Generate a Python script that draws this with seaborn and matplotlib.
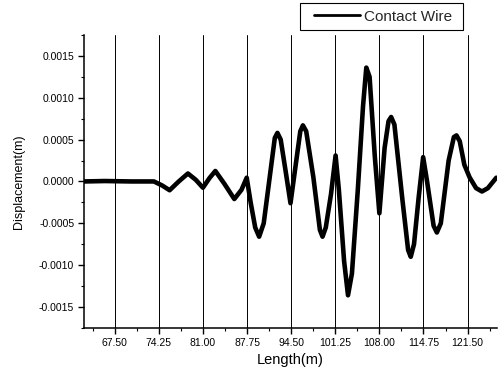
import matplotlib
matplotlib.use("Agg")
import matplotlib.pyplot as plt
from matplotlib.patches import Rectangle
from matplotlib.ticker import AutoMinorLocator, FormatStrFormatter
import seaborn as sns
import pandas as pd

# Contact wire vertical displacement along the span
length_m = [62.8, 66.0, 70.0, 73.5, 74.8, 75.9, 77.3, 78.7, 79.9, 81.0,
            82.0, 82.9, 84.3, 85.8, 86.9, 87.7, 88.3, 89.0, 89.6, 90.3,
            91.3, 92.0, 92.4, 92.9, 93.7, 94.4, 95.2, 95.9, 96.3, 96.8,
            97.9, 98.9, 99.3, 99.8, 100.6, 101.3, 101.8, 102.6, 103.2, 103.8,
            104.7, 105.5, 106.0, 106.5, 107.3, 108.0, 108.8, 109.4, 109.8, 110.3,
            111.5, 112.4, 112.8, 113.3, 114.0, 114.7, 115.3, 116.3, 116.8, 117.4,
            118.6, 119.4, 119.8, 120.3, 121.0, 121.8, 122.8, 123.7, 124.6, 125.9]
displacement_1e4 = [0.0, 0.05, 0.0, 0.0, -0.5, -1.05, 0.0, 0.95, 0.2, -0.75,
                    0.4, 1.25, -0.3, -2.1, -1.0, 0.45, -2.5, -5.5, -6.6, -5.0,
                    1.0, 5.2, 5.8, 5.0, 1.0, -2.6, 2.0, 6.0, 6.7, 6.0,
                    0.5, -5.8, -6.6, -5.5, -1.5, 3.1, -1.0, -9.5, -13.6, -11.0,
                    -1.0, 9.0, 13.6, 12.5, 3.0, -3.8, 4.0, 7.2, 7.7, 6.8,
                    -2.0, -8.2, -9.0, -7.5, -2.0, 2.9, 0.0, -5.3, -6.1, -5.0,
                    2.5, 5.3, 5.5, 4.8, 2.0, 0.5, -0.8, -1.2, -0.8, 0.45]
x_ticks = [67.50, 74.25, 81.00, 87.75, 94.50, 101.25, 108.00, 114.75, 121.50]
y_ticks = [-0.0015, -0.0010, -0.0005, 0.0, 0.0005, 0.0010, 0.0015]

df = pd.DataFrame({"Length": length_m,
                   "Displacement": [v * 1e-4 for v in displacement_1e4]})

sns.set_theme(style="white")
plt.rcParams["font.family"] = ["Liberation Sans", "DejaVu Sans"]

fig = plt.figure(figsize=(5.0, 3.8), dpi=100)
ax = fig.add_axes([0.168, 0.137, 0.826, 0.771])

# dropper positions as vertical lines
for xv in x_ticks:
    ax.axvline(xv, color="black", lw=0.7, zorder=1)

sns.lineplot(data=df, x="Length", y="Displacement", ax=ax, color="black",
             lw=3.3, label="Contact Wire", zorder=3, sort=False)

ax.set_xlim(62.8, 126.0)
ax.set_ylim(-0.00175, 0.00175)
ax.set_xticks(x_ticks)
ax.set_yticks(y_ticks)
ax.xaxis.set_major_formatter(FormatStrFormatter("%.2f"))
ax.yaxis.set_major_formatter(FormatStrFormatter("%.4f"))
ax.xaxis.set_minor_locator(AutoMinorLocator(2))
ax.yaxis.set_minor_locator(AutoMinorLocator(2))

for side in ("top", "right"):
    ax.spines[side].set_visible(False)
for side in ("left", "bottom"):
    ax.spines[side].set_color("black")
    ax.spines[side].set_linewidth(1.1)

ax.tick_params(axis="both", which="major", direction="out", length=4,
               width=1.0, color="black", labelsize=7.5, pad=3,
               bottom=True, left=True, labelcolor="black")
ax.tick_params(axis="both", which="minor", direction="out", length=2,
               width=0.8, color="black", bottom=True, left=True)

ax.set_xlabel("Length(m)", fontsize=10.5, color="black", labelpad=4)
ax.set_ylabel("Displacement(m)", fontsize=9, color="black", labelpad=10)

# legend entry with a separate outline box above the plot area
leg = ax.legend(loc="center left", bbox_to_anchor=(0.628, 0.956),
                bbox_transform=fig.transFigure, frameon=False, fontsize=11,
                handlelength=3.0, borderpad=0.0, borderaxespad=0.0,
                handletextpad=0.3)
leg.get_lines()[0].set_linewidth(2.0)
fig.patches.append(Rectangle((0.600, 0.921), 0.326, 0.071,
                             transform=fig.transFigure, fill=False,
                             edgecolor="black", linewidth=0.8))

fig.savefig("out.png", dpi=100, facecolor="white")
